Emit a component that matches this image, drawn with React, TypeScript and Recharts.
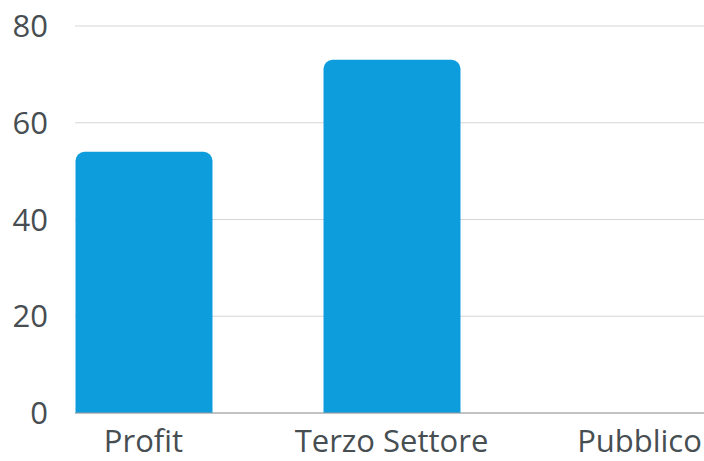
import React from "react";
import { BarChart, Bar, XAxis, YAxis, CartesianGrid } from "recharts";

const categories = ["Profit", "Terzo Settore", "Pubblico"];
const values = [54, 73, 0];
const yTicks = [0, 20, 40, 60, 80];

const data = categories.map((name, i) => ({ name, value: values[i] }));

const FONT = "'Open Sans', sans-serif";
const TEXT = "#474e52";

export default function App() {
  return (
    <div style={{ position: "absolute", left: 0, top: 0, width: 704, height: 461, overflow: "hidden", background: "#fff" }}>
      <BarChart width={704} height={461} data={data} margin={{ top: 26, right: 0, left: 0, bottom: 0 }}>
        <CartesianGrid vertical={false} stroke="#d6d6d6" strokeWidth={1} />
        <XAxis
          dataKey="name"
          height={48}
          padding={{ left: -55.5, right: -59.5 }}
          axisLine={{ stroke: "#9a9a9a", strokeWidth: 1 }}
          tickLine={false}
          tickSize={0}
          tickMargin={17}
          tick={{ fill: TEXT, fontSize: 31, fontFamily: FONT }}
          interval={0}
        />
        <YAxis
          width={75}
          domain={[0, 80]}
          ticks={yTicks}
          axisLine={false}
          tickLine={false}
          tickSize={0}
          tickMargin={27}
          tick={{ fill: TEXT, fontSize: 31, fontFamily: FONT }}
        />
        <Bar dataKey="value" fill="#0d9ddd" barSize={137} radius={[9, 9, 0, 0]} isAnimationActive={false} />
      </BarChart>
    </div>
  );
}
